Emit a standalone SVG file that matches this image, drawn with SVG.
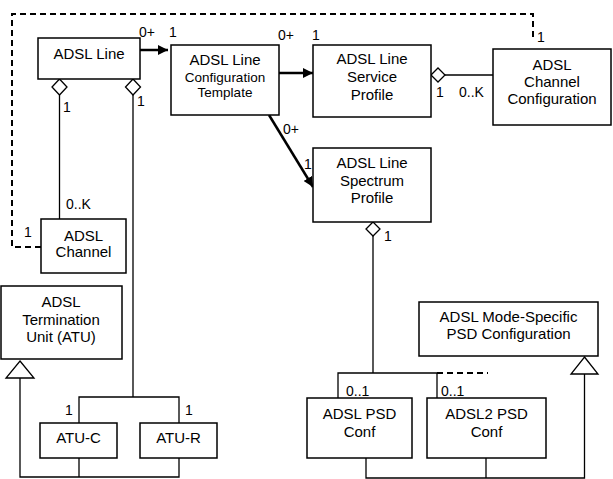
<svg xmlns="http://www.w3.org/2000/svg" width="613" height="479" viewBox="0 0 613 479">
<style>
.box{fill:#fff;stroke:#000;stroke-width:1.5}
.t{font-family:"Liberation Sans",Arial,sans-serif;font-size:15px;fill:#000;text-anchor:middle}
.s{font-size:13.5px}
.lbl{font-family:"Liberation Sans",Arial,sans-serif;font-size:14px;fill:#000}
.ln{fill:none;stroke:#000;stroke-width:1.3}
.thick{fill:none;stroke:#000;stroke-width:2.5}
.dash{fill:none;stroke:#000;stroke-width:2;stroke-dasharray:6,4}
.dia{fill:#fff;stroke:#000;stroke-width:1.3}
.tri{fill:#fff;stroke:#000;stroke-width:1.3}
</style>
<defs>
<marker id="ah" viewBox="0 0 10 10" refX="10" refY="5" markerWidth="4" markerHeight="4" orient="auto" markerUnits="strokeWidth">
<path d="M0,0 L10,5 L0,10 z" fill="#000"/>
</marker>
</defs>
<rect width="613" height="479" fill="#fff"/>
<g id="connectors">
<path class="dash" d="M41,247 H12 V14 H533 V40"/>
<path class="thick" d="M140,50 H168" marker-end="url(#ah)"/>
<path class="thick" d="M279,73 H313" marker-end="url(#ah)"/>
<path class="thick" d="M269,115 L313,187" marker-end="url(#ah)"/>
<path class="ln" d="M445,75 H493"/>
<polygon class="dia" points="431,75 438,68 445,75 438,82"/>
<path class="ln" d="M59.5,95 V219"/>
<polygon class="dia" points="59.5,79 67,87 59.5,95 52,87"/>
<path class="ln" d="M133,95 V397 M79,423 V397 H179 V423"/>
<polygon class="dia" points="133,79 140.5,87 133,95 125.5,87"/>
<path class="ln" d="M373,236 V373 M338,398 V373 H437 V398"/>
<path class="dash" d="M437,373 H488"/>
<polygon class="dia" points="373,222 380,229 373,236 366,229"/>
<path class="ln" d="M20,378 V477 H179 V458 M79,458 V477"/>
<polygon class="tri" points="20,361 34,378 6,378"/>
<path class="ln" d="M584.5,374 V478 H366 V458 M486,458 V478"/>
<polygon class="tri" points="584.5,357 598,374 571,374"/>
<text class="lbl" x="139" y="37">0+</text>
<text class="lbl" x="169" y="37">1</text>
<text class="lbl" x="278" y="40">0+</text>
<text class="lbl" x="312" y="40">1</text>
<text class="lbl" x="537" y="42">1</text>
<text class="lbl" x="436" y="97">1</text>
<text class="lbl" x="459" y="97">0..K</text>
<text class="lbl" x="283" y="134">0+</text>
<text class="lbl" x="304" y="169">1</text>
<text class="lbl" x="384" y="241">1</text>
<text class="lbl" x="63" y="112">1</text>
<text class="lbl" x="137" y="106">1</text>
<text class="lbl" x="66" y="209">0..K</text>
<text class="lbl" x="24" y="237">1</text>
<text class="lbl" x="65" y="415">1</text>
<text class="lbl" x="185" y="415">1</text>
<text class="lbl" x="346" y="396">0..1</text>
<text class="lbl" x="441" y="396">0..1</text>
</g>
<g id="adsl-line">
<rect class="box" x="38" y="38" width="102" height="41"/>
<text class="t" x="89" y="59">ADSL Line</text>
</g>
<g id="config-template">
<rect class="box" x="171" y="45" width="108" height="70"/>
<text class="t" x="225" y="65">ADSL Line</text>
<text class="t s" x="225" y="82">Configuration</text>
<text class="t s" x="225" y="97">Template</text>
</g>
<g id="service-profile">
<rect class="box" x="313" y="45" width="118" height="72"/>
<text class="t" x="372" y="64">ADSL Line</text>
<text class="t" x="372" y="82">Service</text>
<text class="t" x="372" y="100">Profile</text>
</g>
<g id="channel-config">
<rect class="box" x="493" y="49" width="118" height="76"/>
<text class="t" x="552" y="70">ADSL</text>
<text class="t" x="552" y="87">Channel</text>
<text class="t" x="552" y="104">Configuration</text>
</g>
<g id="spectrum-profile">
<rect class="box" x="313" y="148" width="118" height="74"/>
<text class="t" x="372" y="168">ADSL Line</text>
<text class="t" x="372" y="186">Spectrum</text>
<text class="t" x="372" y="203">Profile</text>
</g>
<g id="adsl-channel">
<rect class="box" x="41" y="219" width="85" height="54"/>
<text class="t" x="83.5" y="241">ADSL</text>
<text class="t" x="83.5" y="257">Channel</text>
</g>
<g id="atu">
<rect class="box" x="1" y="286" width="121" height="73"/>
<text class="t" x="61" y="307">ADSL</text>
<text class="t" x="61" y="325">Termination</text>
<text class="t" x="61" y="342">Unit (ATU)</text>
</g>
<g id="atu-c">
<rect class="box" x="40" y="423" width="77" height="35"/>
<text class="t" x="78.5" y="443">ATU-C</text>
</g>
<g id="atu-r">
<rect class="box" x="140" y="423" width="77" height="35"/>
<text class="t" x="178.5" y="443">ATU-R</text>
</g>
<g id="mode-specific">
<rect class="box" x="419" y="302" width="179" height="54"/>
<text class="t" x="508.5" y="322">ADSL Mode-Specific</text>
<text class="t" x="508.5" y="339">PSD Configuration</text>
</g>
<g id="adsl-psd">
<rect class="box" x="307" y="398" width="105" height="60"/>
<text class="t" x="359.5" y="419">ADSL PSD</text>
<text class="t" x="359.5" y="437">Conf</text>
</g>
<g id="adsl2-psd">
<rect class="box" x="427" y="398" width="119" height="60"/>
<text class="t" x="486.5" y="419">ADSL2 PSD</text>
<text class="t" x="486.5" y="437">Conf</text>
</g>
</svg>
